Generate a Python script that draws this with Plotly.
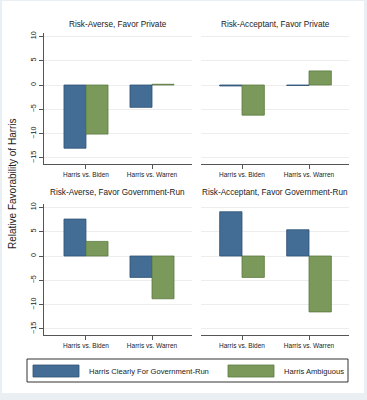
import plotly.graph_objects as go

categories = ["Harris vs. Biden", "Harris vs. Warren"]
panel_titles = [
    "Risk-Averse, Favor Private",
    "Risk-Acceptant, Favor Private",
    "Risk-Averse, Favor Government-Run",
    "Risk-Acceptant, Favor Government-Run",
]
series_names = ["Harris Clearly For Government-Run", "Harris Ambiguous"]
clear_vals = [[-13.0, -4.6], [-0.2, -0.1], [7.6, -4.4], [9.1, 5.4]]
ambig_vals = [[-10.1, 0.15], [-6.2, 2.9], [3.0, -8.8], [-4.4, -11.5]]
y_ticks = [-15, -10, -5, 0, 5, 10]
y_title = "Relative Favorability of Harris"

W, H = 367, 400
BLUE, BLUE_LINE = "#436d94", "#2e5275"
GREEN, GREEN_LINE = "#7a995a", "#5b7a40"
FONT = "Liberation Sans, Arial, sans-serif"
TXT = "#222222"

def px(x):
    return x / W

def py(y):
    return 1 - y / H

# domains (pixel based)
xdoms = [(44, 192), (201, 349)]
ydoms = [(32.5, 164), (203.5, 335)]
xranges = [(-0.636, 1.606), (-0.612, 1.597)]
yrange = [-16.25, 10.8]

fig = go.Figure()
for i in range(4):
    r, c = divmod(i, 2)
    ax = "" if i == 0 else str(i + 1)
    fig.add_trace(go.Bar(x=categories, y=clear_vals[i], name=series_names[0],
                         marker=dict(color=BLUE, line=dict(color=BLUE_LINE, width=0.8)),
                         xaxis="x" + ax, yaxis="y" + ax, showlegend=False, offsetgroup="a"))
    fig.add_trace(go.Bar(x=categories, y=ambig_vals[i], name=series_names[1],
                         marker=dict(color=GREEN, line=dict(color=GREEN_LINE, width=0.8)),
                         xaxis="x" + ax, yaxis="y" + ax, showlegend=False, offsetgroup="b"))
    x0, x1 = xdoms[c]
    y0, y1 = ydoms[r]
    fig.layout["xaxis" + ax] = dict(
        domain=[px(x0), px(x1)], range=list(xranges[c]), type="category",
        anchor="y" + ax, showline=True, linecolor="#555555", linewidth=1,
        ticks="outside", ticklen=4, tickcolor="#555555", showgrid=False,
        tickfont=dict(size=6.5, family=FONT, color=TXT), zeroline=False,
        fixedrange=True,
    )
    fig.layout["yaxis" + ax] = dict(
        domain=[py(y1), py(y0)], range=yrange, anchor="x" + ax,
        tickvals=y_ticks, showgrid=True, gridcolor="#ededed", gridwidth=1,
        zeroline=False, showline=(c == 0), linecolor="#555555", linewidth=1,
        ticks="outside" if c == 0 else "", ticklen=4, tickcolor="#555555",
        showticklabels=(c == 0), tickangle=-90,
        tickfont=dict(size=7.2, family=FONT, color=TXT),
        fixedrange=True,
    )
    fig.add_annotation(text=panel_titles[i], xref="paper", yref="paper",
                       x=px((x0 + x1) / 2), y=py(24 if r == 0 else 193),
                       showarrow=False, font=dict(size=8.2, family=FONT, color=TXT),
                       xanchor="center", yanchor="middle")

# white graph region over light-blue outer frame
shapes = [dict(type="rect", xref="paper", yref="paper", x0=px(2), x1=px(364),
               y0=py(393), y1=py(1), fillcolor="white", line=dict(width=0), layer="below")]
# legend box
shapes.append(dict(type="rect", xref="paper", yref="paper", x0=px(27), x1=px(348),
                   y0=py(382), y1=py(359), fillcolor="white",
                   line=dict(color="#333333", width=1)))
shapes.append(dict(type="rect", xref="paper", yref="paper", x0=px(33), x1=px(79),
                   y0=py(377), y1=py(365), fillcolor=BLUE, line=dict(color=BLUE_LINE, width=0.8)))
shapes.append(dict(type="rect", xref="paper", yref="paper", x0=px(228), x1=px(274),
                   y0=py(377), y1=py(365), fillcolor=GREEN, line=dict(color=GREEN_LINE, width=0.8)))
fig.add_annotation(text=series_names[0], xref="paper", yref="paper", x=px(87), y=py(371),
                   xanchor="left", yanchor="middle", showarrow=False,
                   font=dict(size=7.6, family=FONT, color=TXT))
fig.add_annotation(text=series_names[1], xref="paper", yref="paper", x=px(282), y=py(371),
                   xanchor="left", yanchor="middle", showarrow=False,
                   font=dict(size=7.6, family=FONT, color=TXT))
fig.add_annotation(text=y_title, xref="paper", yref="paper", x=px(12), y=py(184),
                   textangle=-90, xanchor="center", yanchor="middle", showarrow=False,
                   font=dict(size=10, family=FONT, color=TXT))

fig.update_layout(
    width=W, height=H, margin=dict(l=0, r=0, t=0, b=0),
    paper_bgcolor="#e9eff3", plot_bgcolor="rgba(0,0,0,0)",
    barmode="group", bargap=0.333, bargroupgap=0,
    shapes=shapes, showlegend=False, hovermode=False,
)
fig.write_html("out.html", config={"displayModeBar": False},
               post_script="document.body.style.margin='0';document.body.style.overflow='hidden';")
